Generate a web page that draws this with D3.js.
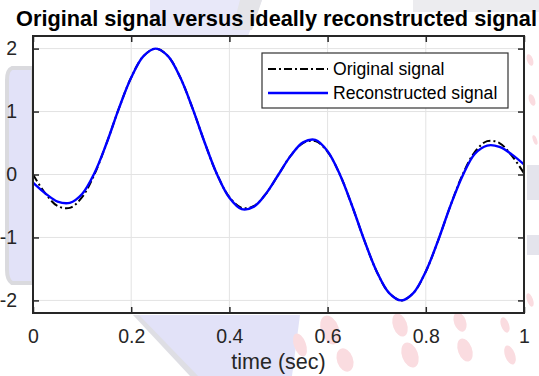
<!DOCTYPE html>
<html><head><meta charset="utf-8">
<script src="https://cdn.jsdelivr.net/npm/d3@7"></script>
<style>html,body{margin:0;padding:0;background:#fff;}svg{display:block;}</style>
</head><body>
<script>
// ---- data ----
const time = [0,0.025,0.05,0.075,0.1,0.125,0.15,0.175,0.2,0.225,0.25,0.275,0.3,0.325,0.35,0.375,0.4,0.425,0.45,0.475,0.5,0.525,0.55,0.575,0.6,0.625,0.65,0.675,0.7,0.725,0.75,0.775,0.8,0.825,0.85,0.875,0.9,0.925,0.95,0.975,1.0];
const originalSignal = [0,-0.30,-0.50,-0.53,-0.36,0,0.50,1.05,1.54,1.88,2.0,1.88,1.54,1.05,0.50,0,-0.36,-0.53,-0.50,-0.30,0,0.30,0.50,0.53,0.36,0,-0.50,-1.05,-1.54,-1.88,-2.0,-1.88,-1.54,-1.05,-0.50,0,0.36,0.53,0.50,0.30,0.02];
const reconstructedSignal = [-0.13,-0.30,-0.43,-0.45,-0.31,0.02,0.50,1.05,1.54,1.88,2.0,1.88,1.54,1.05,0.50,0,-0.37,-0.55,-0.51,-0.30,0,0.30,0.51,0.55,0.37,0,-0.50,-1.05,-1.54,-1.88,-2.0,-1.88,-1.54,-1.05,-0.50,-0.02,0.33,0.46,0.44,0.32,0.16];
const xTicks = [0,0.2,0.4,0.6,0.8,1];
const xTickLabels = ["0","0.2","0.4","0.6","0.8","1"];
const yTicks = [-2,-1,0,1,2];
const yTickLabels = ["-2","-1","0","1","2"];
const legendLabels = ["Original signal","Reconstructed signal"];
const titleText = "Original signal versus ideally reconstructed signal";
const xLabelText = "time (sec)";

const W = 539, H = 376;
const L = 33, R = 524, T = 36, B = 313;
const FONT = "'Liberation Sans', Arial, Helvetica, sans-serif";
const AX = "#262626";

const svg = d3.select("body").append("svg").attr("width", W).attr("height", H);

// ---- faint background watermark (outside axes) ----
const wm = svg.append("g");
wm.append("path").attr("d","M12,68 L33,68 L33,283 L12,283 Q7,280 7,270 L7,80 Q7,70 12,68 Z")
  .attr("fill","#e2e2f8").attr("stroke","#dadade").attr("stroke-width",4);
wm.append("path").attr("d","M137,315 L300,315 L292,376 L196,376 Z").attr("fill","#e2e2f8");
wm.append("path").attr("d","M133,315 L139,315 L198,376 L190,376 Z").attr("fill","#dedee4");
wm.append("path").attr("d","M150,0 L262,0 L248,36 L150,36 Z").attr("fill","#e8e8f9");
wm.append("path").attr("d","M240,0 L262,0 L252,30 L232,30 Z").attr("fill","#e4e4e8");
wm.append("rect").attr("x",413).attr("y",0).attr("width",126).attr("height",12).attr("fill","#ececef");
wm.append("rect").attr("x",527).attr("y",165).attr("width",12).attr("height",35).attr("fill","#e4e4ec");
wm.append("rect").attr("x",527).attr("y",235).attr("width",12).attr("height",20).attr("fill","#e4e4ec");
const dots = [[330,330,9,15],[345,360,8,12],[400,325,7,12],[410,355,8,13],[460,322,6,10],[465,350,7,12],[505,325,4,8],[510,355,5,10],[300,345,6,12],[530,60,3,6],[532,100,3,6],[530,300,3,7],[535,140,2,5]];
dots.forEach(d=>wm.append("ellipse").attr("cx",d[0]).attr("cy",d[1]).attr("rx",d[2]).attr("ry",d[3])
  .attr("fill","#fadce0").attr("transform",`rotate(-20,${d[0]},${d[1]})`));

// ---- scales ----
const x = d3.scaleLinear().domain([0,1]).range([L,R]);
const y = d3.scaleLinear().domain([-2.2,2.2]).range([B,T]);

// axes background
svg.append("rect").attr("x",L).attr("y",T).attr("width",R-L).attr("height",B-T).attr("fill","#fff");

// grid
const grid = svg.append("g").attr("stroke","#e3e3e3").attr("stroke-width",1);
xTicks.forEach(t=>grid.append("line").attr("x1",x(t)).attr("x2",x(t)).attr("y1",T).attr("y2",B));
yTicks.forEach(t=>grid.append("line").attr("y1",y(t)).attr("y2",y(t)).attr("x1",L).attr("x2",R));

// lines
const lineGen = d3.line().x((d,i)=>x(time[i])).y(d=>y(d)).curve(d3.curveCatmullRom.alpha(0.5));
svg.append("path").datum(originalSignal).attr("d",lineGen).attr("fill","none")
  .attr("stroke","#000").attr("stroke-width",2).attr("stroke-dasharray","8,3,2,3");
svg.append("path").datum(reconstructedSignal).attr("d",lineGen).attr("fill","none")
  .attr("stroke","#0000ff").attr("stroke-width",2.4);

// axes (ticks inside, box)
const tl = 6;
const axB = svg.append("g").attr("transform",`translate(0,${B})`)
  .call(d3.axisBottom(x).tickValues(xTicks).tickFormat((d,i)=>xTickLabels[i]).tickSizeInner(-tl).tickSizeOuter(0).tickPadding(16));
const axT = svg.append("g").attr("transform",`translate(0,${T})`)
  .call(d3.axisTop(x).tickValues(xTicks).tickFormat("").tickSizeInner(-tl).tickSizeOuter(0));
const axL = svg.append("g").attr("transform",`translate(${L},0)`)
  .call(d3.axisLeft(y).tickValues(yTicks).tickFormat(d=>yTickLabels[yTicks.indexOf(d)]).tickSizeInner(-tl).tickSizeOuter(0).tickPadding(16));
const axR = svg.append("g").attr("transform",`translate(${R},0)`)
  .call(d3.axisRight(y).tickValues(yTicks).tickFormat("").tickSizeInner(-tl).tickSizeOuter(0));
[axB,axT,axL,axR].forEach(a=>{
  a.selectAll(".domain").remove();
  a.selectAll(".tick line").attr("stroke",AX).attr("stroke-width",1.5);
  a.selectAll("text").attr("fill",AX).style("font-family",FONT).style("font-size","19.5px");
});
svg.append("rect").attr("x",L).attr("y",T).attr("width",R-L).attr("height",B-T)
  .attr("fill","none").attr("stroke",AX).attr("stroke-width",2);

// labels
svg.append("text").attr("x",(L+R)/2).attr("y",369).attr("text-anchor","middle")
  .style("font-family",FONT).style("font-size","21.5px").attr("fill",AX).text(xLabelText);
svg.append("text").attr("x",16).attr("y",26).attr("textLength",521).attr("lengthAdjust","spacingAndGlyphs")
  .style("font-family",FONT).style("font-size","21.5px").style("font-weight","bold").attr("fill","#000").text(titleText);

// legend
const lg = svg.append("g");
lg.append("rect").attr("x",262).attr("y",53).attr("width",246).attr("height",55)
  .attr("fill","#fff").attr("stroke","#333").attr("stroke-width",1.2);
const rows = [{y:69, stroke:"#000", dash:"8,3,2,3", w:2},{y:93, stroke:"#0000ff", dash:null, w:2.4}];
rows.forEach((r,i)=>{
  lg.append("line").attr("x1",268).attr("x2",328).attr("y1",r.y).attr("y2",r.y)
    .attr("stroke",r.stroke).attr("stroke-width",r.w).attr("stroke-dasharray",r.dash);
  lg.append("text").attr("x",333).attr("y",r.y).attr("dy","0.35em")
    .style("font-family",FONT).style("font-size","17.6px").attr("fill","#000").text(legendLabels[i]);
});
</script>
</body></html>
